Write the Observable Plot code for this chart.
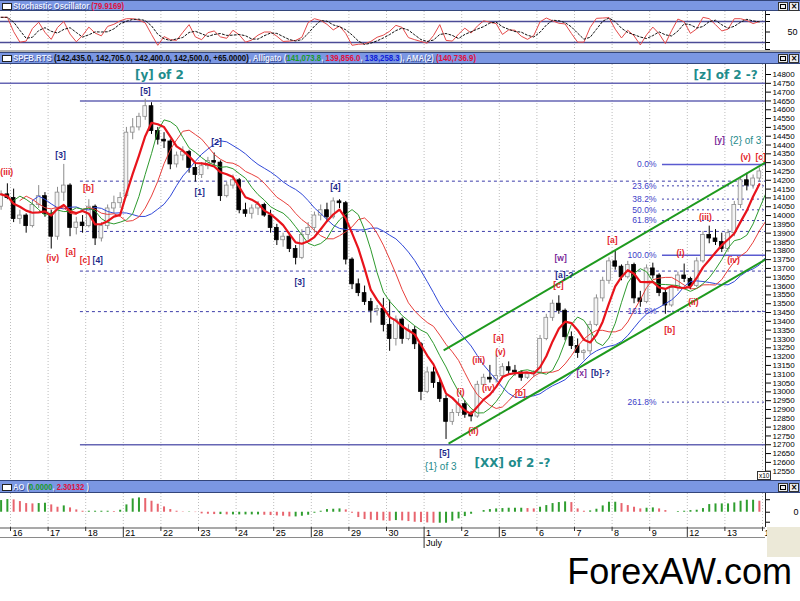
<!DOCTYPE html>
<html><head><meta charset="utf-8">
<script src="https://cdn.jsdelivr.net/npm/d3@7"></script>
<script src="https://cdn.jsdelivr.net/npm/@observablehq/plot@0.6"></script>
<style>
html,body{margin:0;padding:0;}
body{width:800px;height:601px;position:relative;overflow:hidden;background:#fff;font-family:"Liberation Sans",Arial,sans-serif;}
.abs{position:absolute;left:0;}
.hdr{position:absolute;left:0;width:800px;background:#7b97e3;border-top:1px solid #33457a;border-bottom:1px solid #33457a;box-sizing:border-box;}
.hdr .txt{position:absolute;left:13px;top:50%;white-space:nowrap;font-weight:bold;font-size:9px;line-height:9px;transform-origin:0 50%;}
.hdr .ico{position:absolute;left:2px;top:50%;margin-top:-3px;width:8px;height:5px;background:#fff;border:1px solid #222;}
.hdr .b{position:absolute;top:50%;margin-top:-4px;width:8px;height:7px;background:#eee;border:1px solid #333;font:bold 8px/7px "DejaVu Sans",sans-serif;text-align:center;color:#000;}
.lt{color:#e9eeff;text-shadow:1px 1px 0 #3a4d94;}
.bk{color:#0a0a0a;}
.rd{color:#e0103c;}
.gr{color:#1a9a2a;}
.bl{color:#1020d8;}
.sep{position:absolute;left:0;width:800px;background:#b0b0b0;}
</style></head>
<body>
<div class="hdr" style="top:0;height:11px"><span class="ico"></span><span class="txt" data-w="111"><span class="lt">Stochastic Oscillator</span><span class="rd"> (79.9169)</span></span><span class="b" style="left:778px"><span style="display:inline-block;width:4px;height:3px;border:1px solid #000;margin-top:1px"></span></span><span class="b" style="left:789px">×</span></div>
<div id="stoch" class="abs" style="top:11px"></div>
<div class="sep" style="top:50px;height:2px"></div>
<div class="hdr" style="top:52px;height:12px"><span class="ico"></span><span class="txt" data-w="463"><span class="lt">SPFB.RTS</span><span class="bk"> (142,435.0, 142,705.0, 142,400.0, 142,500.0, +65.0000)</span><span class="lt">, Alligato (</span><span class="gr">141,073.8</span><span class="lt">, </span><span class="rd">139,856.0</span><span class="lt">, </span><span class="bl">138,258.3</span><span class="lt">), AMA(2) </span><span class="rd">(140,736.9)</span></span><span class="b" style="left:778px"><span style="display:inline-block;width:4px;height:3px;border:1px solid #000;margin-top:1px"></span></span><span class="b" style="left:789px">×</span></div>
<div id="main" class="abs" style="top:64px"></div>
<div class="hdr" style="top:480px;height:13px"><span class="ico"></span><span class="txt" data-w="76"><span class="lt">AO</span><span class="lt"> (</span><span class="gr">0.0000</span><span class="lt">, </span><span class="rd">2.30132</span><span class="lt"> )</span></span><span class="b" style="left:778px"><span style="display:inline-block;width:4px;height:3px;border:1px solid #000;margin-top:1px"></span></span><span class="b" style="left:789px">×</span></div>
<div id="ao" class="abs" style="top:493px"></div>
<div id="strip" class="abs" style="top:527px"></div>
<div style="position:absolute;left:767px;top:527px;width:33px;height:30px;background:#ece9d8;"></div>
<div style="position:absolute;left:757px;top:471px;height:7px;padding:0 1px;border:1px solid #333;background:#fff;font:6.5px/7px 'Liberation Sans',sans-serif;color:#000;">x10</div>
<div style="position:absolute;right:8px;top:552px;font:36px/40px 'Liberation Sans',Arial,sans-serif;color:#000;">ForexAW.com</div>
<script>
// ---------- data ----------
const dayLabels = ["16","17","18","21","22","23","24","25","28","29","30","1","2","5","6","7","8","9","12","13","1"];
const mondays = [3, 8, 13, 18];
const julyStart = 11;
const barsPerDay = 6;
// [open, high, low, close]; first two bars are the end of the previous session
const bars = [
[14050,14140,14030,14120],[14120,14180,14090,14100],
[14100,14150,13960,13980],[13980,14030,13950,14000],[14000,14010,13900,13940],[13940,14080,13930,14060],[14060,14170,14040,14110],[14110,14130,13990,14010],
[14010,14030,13810,13880],[13880,14160,13860,14130],[14130,14290,14080,14170],[14170,14180,13880,13930],[13930,13990,13890,13960],[13960,14000,13900,13940],
[13940,14090,13930,14050],[14050,14060,13830,13870],[13870,13960,13850,13940],[13940,14060,13920,14040],[14040,14110,14010,14070],[14070,14130,14040,14100],
[14110,14500,14100,14470],[14470,14550,14430,14500],[14500,14580,14480,14560],[14560,14660,14540,14620],[14620,14640,14460,14480],[14480,14500,14400,14430],
[14430,14470,14380,14420],[14420,14430,14260,14290],[14290,14360,14270,14340],[14340,14390,14310,14360],[14360,14370,14240,14270],[14270,14290,14190,14230],
[14230,14300,14210,14280],[14280,14330,14260,14310],[14310,14355,14280,14300],[14300,14310,14080,14110],[14110,14190,14100,14170],[14170,14230,14150,14200],
[14200,14210,14010,14030],[14030,14070,13990,14010],[14010,14060,13980,14040],[14040,14080,14000,14060],[14060,14070,13990,14000],[14000,14030,13900,13930],
[13930,13950,13830,13860],[13860,13900,13820,13880],[13880,13900,13790,13810],[13810,13830,13720,13760],[13760,13920,13750,13890],[13890,13960,13860,13930],
[13930,14020,13900,14000],[14000,14060,13970,14030],[14030,14070,13960,13990],[13990,14100,13980,14080],[14080,14090,14040,14070],[14070,14080,13720,13750],
[13750,13760,13580,13610],[13610,13640,13540,13560],[13560,13600,13490,13510],[13510,13530,13390,13460],[13460,13490,13430,13470],[13470,13530,13340,13380],
[13380,13520,13230,13300],[13300,13430,13260,13410],[13410,13420,13270,13300],[13300,13380,13290,13350],[13350,13370,13240,13270],[13270,13280,12950,13000],
[13000,13140,12990,13110],[13110,13140,13020,13050],[13050,13070,12940,12960],[12960,12980,12730,12830],[12830,12900,12810,12880],[12880,12960,12860,12930],
[12930,12950,12850,12870],[12870,12890,12830,12860],[12860,13060,12850,13040],[13040,13100,13030,13080],[13080,13150,13050,13070],[13070,13210,13050,13090],
[13090,13160,13070,13140],[13140,13170,13100,13120],[13120,13150,13090,13110],[13110,13120,13060,13080],[13080,13110,13070,13100],[13100,13120,13080,13110],
[13110,13320,13100,13300],[13300,13440,13290,13420],[13420,13520,13400,13500],[13500,13545,13440,13460],[13460,13470,13290,13310],[13310,13340,13240,13260],
[13260,13300,13190,13220],[13220,13240,13180,13230],[13230,13400,13210,13380],[13380,13550,13370,13530],[13530,13650,13510,13630],[13630,13760,13610,13740],
[13740,13800,13690,13710],[13710,13720,13630,13650],[13650,13740,13640,13720],[13720,13730,13500,13530],[13530,13570,13480,13510],[13510,13720,13500,13700],
[13700,13730,13640,13660],[13660,13670,13540,13560],[13560,13580,13440,13490],[13490,13600,13480,13590],[13590,13680,13570,13660],[13660,13725,13620,13640],
[13640,13650,13580,13600],[13600,13760,13590,13740],[13740,13910,13730,13890],[13890,13940,13840,13870],[13870,13920,13830,13850],[13850,13900,13790,13810],
[13810,13920,13790,13900],[13900,14080,13880,14060],[14060,14220,14040,14200],[14200,14240,14140,14170],[14170,14230,14150,14210],[14210,14270,14190,14250]
];
const stochK = [92,92,51,21,24,60,78,49,29,63,80,44,22,40,64,47,39,66,72,82,88,88,84,76,43,12,37,28,26,49,71,36,28,48,53,36,32,55,42,21,27,41,50,50,38,23,24,26,35,77,88,83,72,56,67,46,12,15,16,23,35,41,52,69,63,34,28,23,18,40,71,26,24,44,61,47,67,82,78,74,43,56,55,38,29,40,79,90,82,75,73,46,21,21,63,89,90,91,58,33,55,39,13,42,64,45,17,54,87,79,46,59,92,88,71,53,58,88,88,83,74,80];
const aoValues = [140,152,148,128,104,100,104,108,88,60,76,52,28,12,12,12,12,12,8,24,88,160,172,164,132,96,64,32,12,4,4,-4,-20,-24,-28,-28,-32,-32,-32,-32,-32,-32,-36,-40,-44,-48,-56,-56,-48,-36,-12,12,32,36,40,28,-12,-64,-88,-96,-100,-104,-108,-100,-104,-112,-120,-124,-128,-132,-132,-132,-108,-80,-52,-24,0,20,32,40,44,48,48,48,44,40,60,80,104,116,124,116,40,12,16,36,76,120,120,104,80,60,40,48,52,40,20,0,8,12,20,24,44,92,100,100,100,112,132,144,144,132];
const solidLevels = [[14750, -0.27], [14650, 1.86], [12700, 1.86]];
const dashedLevels = [14195, 13910, 13685, 13455];
const fibHigh = 14290, fibLow = 13775;
const fibRatios = [0, 0.236, 0.382, 0.5, 0.618, 1, 1.618, 2.618];
const fibStart = 17.34;
const channel = [[11.52, 13235, 20.08, 14301], [11.65, 12707, 20.08, 13751]];
const waveLabels = [
 ["(iii)",-0.1,14244,"minute"],["[3]",1.33,14341,"minor"],["[b]",2.07,14153,"minute"],["(iv)",1.12,13756,"minute"],
 ["[a]",1.60,13790,"minute"],["[c]",1.98,13745,"minute"],["[4]",2.32,13745,"minor"],["[5]",3.59,14704,"minor"],
 ["[2]",5.48,14414,"minor"],["[1]",5.03,14131,"minor"],["[4]",8.64,14159,"minor"],["[3]",7.69,13620,"minor"],
 ["[5]",11.54,12650,"minor"],["(ii)",12.31,12775,"minute"],["(i)",11.97,12996,"minute"],["(iii)",12.45,13178,"minute"],
 ["(iv)",12.71,13019,"minute"],["(v)",13.03,13223,"minute"],["[a]",12.98,13303,"minute"],["[b]",13.56,12991,"minute"],
 ["[c]",14.57,13603,"minute"],["[a]-?",14.73,13660,"minor"],["[w]",14.63,13756,"inter"],["[x]",15.19,13104,"inter"],
 ["[b]-?",15.69,13104,"minor"],["[a]",16.01,13858,"minute"],["(i)",17.82,13785,"minute"],["(ii)",18.16,13507,"minute"],
 ["[b]",17.53,13348,"minute"],["(iii)",18.48,13989,"minute"],["(iv)",19.23,13745,"minute"],["[y]",18.86,14426,"inter"],
 ["(v)",19.55,14329,"minute"],["[c]",19.95,14329,"minute"]
];
const degreeLabels = [["{1} of 3",11.44,12577],["{2} of 3",19.55,14426]];
const bigLabels = [["[y] of 2",3.96,14794],["[z] of 2 -?",19.02,14794],["[XX] of 2 -?",13.35,12594]];

// ---------- derived rows ----------
const rows = bars.map(([o,h,l,c], i) => ({x: (i - 1.5) / barsPerDay, o, h, l, c, up: c >= o, mid: (h + l) / 2}));
const stochRows = stochK.map((k, i) => ({x: (i - 1.5) / barsPerDay, k}));
const aoRows = aoValues.map((v, i) => ({x: (i - 1.5) / barsPerDay, v, up: i === 0 ? true : v >= aoValues[i - 1]}));
const X0 = -10 / 37.6, X1 = 755 / 37.6;
const xs = () => ({domain: [X0, X1], range: [0, 765], axis: null});
const font = "Liberation Sans";
const grid = Plot.ruleX(d3.range(0, 21), {stroke: "#bdbdbd", strokeDasharray: "1,2"});
const labelColor = {minute: "#e3262b", minor: "#1c2a8a", inter: "#7a2a9a"};

// ---------- stochastic ----------
const stoch = Plot.plot({
  width: 800, height: 39, marginLeft: 0, marginRight: 35, marginTop: 0, marginBottom: 0,
  x: xs(), y: {domain: [0, 100], range: [38, 3]},
  style: {fontFamily: font, fontSize: "9px", background: "#fff", overflow: "visible"},
  marks: [
    grid,
    Plot.ruleY([20, 80], {stroke: "#4b4b96", strokeWidth: 1.3}),
    Plot.lineY(stochRows, {x: "x", y: "k", stroke: "#e44a4a", strokeWidth: 1}),
    Plot.lineY(stochRows, Plot.windowY({k: 3, anchor: "end"}, {x: "x", y: "k", stroke: "#111", strokeWidth: 1, strokeDasharray: "2,2"})),
    Plot.ruleX([X1], {stroke: "#222"}),
    Plot.axisY({anchor: "right", label: null, ticks: [0, 20, 50, 80, 100], tickSize: 4, tickPadding: 18, tickFormat: d => d === 50 ? "50" : ""})
  ]
});
document.getElementById("stoch").append(stoch);

// ---------- main price panel ----------
const fibRows = fibRatios.map(r => ({r, p: fibHigh - r * (fibHigh - fibLow), t: (r * 100).toFixed(1) + "%"}));
const main = Plot.plot({
  width: 800, height: 416, marginLeft: 0, marginRight: 35, marginTop: 0, marginBottom: 0,
  x: xs(), y: {domain: [12550, 14800], range: [406.7, 10]},
  color: {type: "identity"},
  style: {fontFamily: font, fontSize: "8px", background: "#fff", overflow: "visible"},
  marks: [
    grid,
    Plot.ruleY(solidLevels, {y: d => d[0], x1: d => d[1], x2: X1, stroke: "#6666b4", strokeWidth: 1.5}),
    Plot.ruleY(dashedLevels, {y: d => d, x1: 1.86, x2: X1, stroke: "#3d3daa", strokeWidth: 1, strokeDasharray: "3,3"}),
    Plot.ruleY(fibRows.filter(d => d.r !== 0 && d.r !== 1), {y: "p", x1: fibStart, x2: X1, stroke: "#3d3daa", strokeDasharray: "2,3"}),
    Plot.ruleY(fibRows.filter(d => d.r === 0 || d.r === 1), {y: "p", x1: fibStart, x2: X1, stroke: "#5a5ad0", strokeWidth: 1.5}),
    Plot.ruleX(rows, {x: "x", y1: "l", y2: "h", stroke: d => d.up ? "#8c8c8c" : "#000"}),
    Plot.rect(rows, {x1: d => d.x - 0.05, x2: d => d.x + 0.05, y1: "o", y2: "c", fill: d => d.up ? "#f4f4f4" : "#000", stroke: d => d.up ? "#8c8c8c" : "#000", strokeWidth: 0.8}),
    Plot.lineY(rows, Plot.windowY({k: 11, anchor: "end"}, {x: d => d.x + 5 / barsPerDay, y: "mid", stroke: "#3048d8", strokeWidth: 1, clip: true})),
    Plot.lineY(rows, Plot.windowY({k: 7, anchor: "end"}, {x: d => d.x + 3 / barsPerDay, y: "mid", stroke: "#e8403c", strokeWidth: 1, clip: true})),
    Plot.lineY(rows, Plot.windowY({k: 4, anchor: "end"}, {x: d => d.x + 2 / barsPerDay, y: "mid", stroke: "#2e9a2e", strokeWidth: 1, clip: true})),
    Plot.lineY(rows, Plot.windowY({k: 5, anchor: "end"}, {x: "x", y: "c", stroke: "#e8141c", strokeWidth: 2.2, clip: true})),
    Plot.link(channel, {x1: d => d[0], y1: d => d[1], x2: d => d[2], y2: d => d[3], stroke: "#1e9a1e", strokeWidth: 2}),
    Plot.text(fibRows, {x: fibStart - 0.16, y: "p", text: "t", textAnchor: "end", fill: "#4040c8", fontSize: 8.5, fontFamily: font}),
    Plot.text(waveLabels, {x: d => d[1], y: d => d[2], text: d => d[0], fill: d => labelColor[d[3]], fontSize: 8.5, fontWeight: "bold", fontFamily: font}),
    Plot.text(degreeLabels, {x: d => d[1], y: d => d[2], text: d => d[0], fill: "#1f8c8c", fontSize: 10, fontFamily: font}),
    Plot.text(bigLabels, {x: d => d[1], y: d => d[2], text: d => d[0], fill: "#1f8c8c", fontSize: 12, fontWeight: "bold", fontFamily: "DejaVu Sans"}),
    Plot.ruleX([X1], {stroke: "#222"}),
    Plot.axisY({anchor: "right", label: null, ticks: d3.range(12550, 14801, 50), tickSize: 5, tickPadding: 2, tickFormat: d => String(d)})
  ]
});
document.getElementById("main").append(main);

// ---------- AO panel ----------
const ao = Plot.plot({
  width: 800, height: 34, marginLeft: 0, marginRight: 35, marginTop: 0, marginBottom: 0,
  x: xs(), y: {domain: [-200, 220], range: [35.4, 0.4]},
  color: {type: "identity"},
  style: {fontFamily: font, fontSize: "9px", background: "#fff", overflow: "visible"},
  marks: [
    grid,
    Plot.ruleX(aoRows, {x: "x", y1: 0, y2: "v", stroke: d => d.up ? "#2f9e2f" : "#e8646e", strokeWidth: 2}),
    Plot.ruleX([X1], {stroke: "#222"}),
    Plot.axisY({anchor: "right", label: null, ticks: [-120, 0, 150], tickSize: 4, tickPadding: 24, tickFormat: d => d === 0 ? "0" : ""})
  ]
});
document.getElementById("ao").append(ao);

// ---------- time axis ----------
const strip = Plot.plot({
  width: 800, height: 22, marginLeft: 0, marginRight: 35, marginTop: 0, marginBottom: 0,
  x: xs(), y: {domain: [0, 22], range: [0, 22], axis: null},
  style: {fontFamily: font, fontSize: "9px", background: "transparent", overflow: "visible"},
  marks: [
    Plot.ruleY([0.5], {stroke: "#555", strokeWidth: 1.2}),
    Plot.ruleY([10], {stroke: "#8a8a8a"}),
    Plot.ruleX(d3.range(0, 21), {y1: 0, y2: i => i === julyStart ? 21 : mondays.includes(i) ? 10 : 4, stroke: "#333"}),
    Plot.text(d3.range(0, 21), {x: i => i, y: 5.5, text: i => dayLabels[i], textAnchor: "start", dx: 2, fill: "#000"}),
    Plot.text(["July"], {x: julyStart, y: 15.5, text: d => d, textAnchor: "start", dx: 2, fill: "#000"})
  ]
});
document.getElementById("strip").append(strip);

// fit header texts to their widths
document.querySelectorAll(".hdr .txt").forEach(el => {
  const w = el.getBoundingClientRect().width;
  const target = +el.dataset.w;
  el.style.transform = `translateY(-50%) scaleX(${target / w})`;
});
</script>
</body></html>
